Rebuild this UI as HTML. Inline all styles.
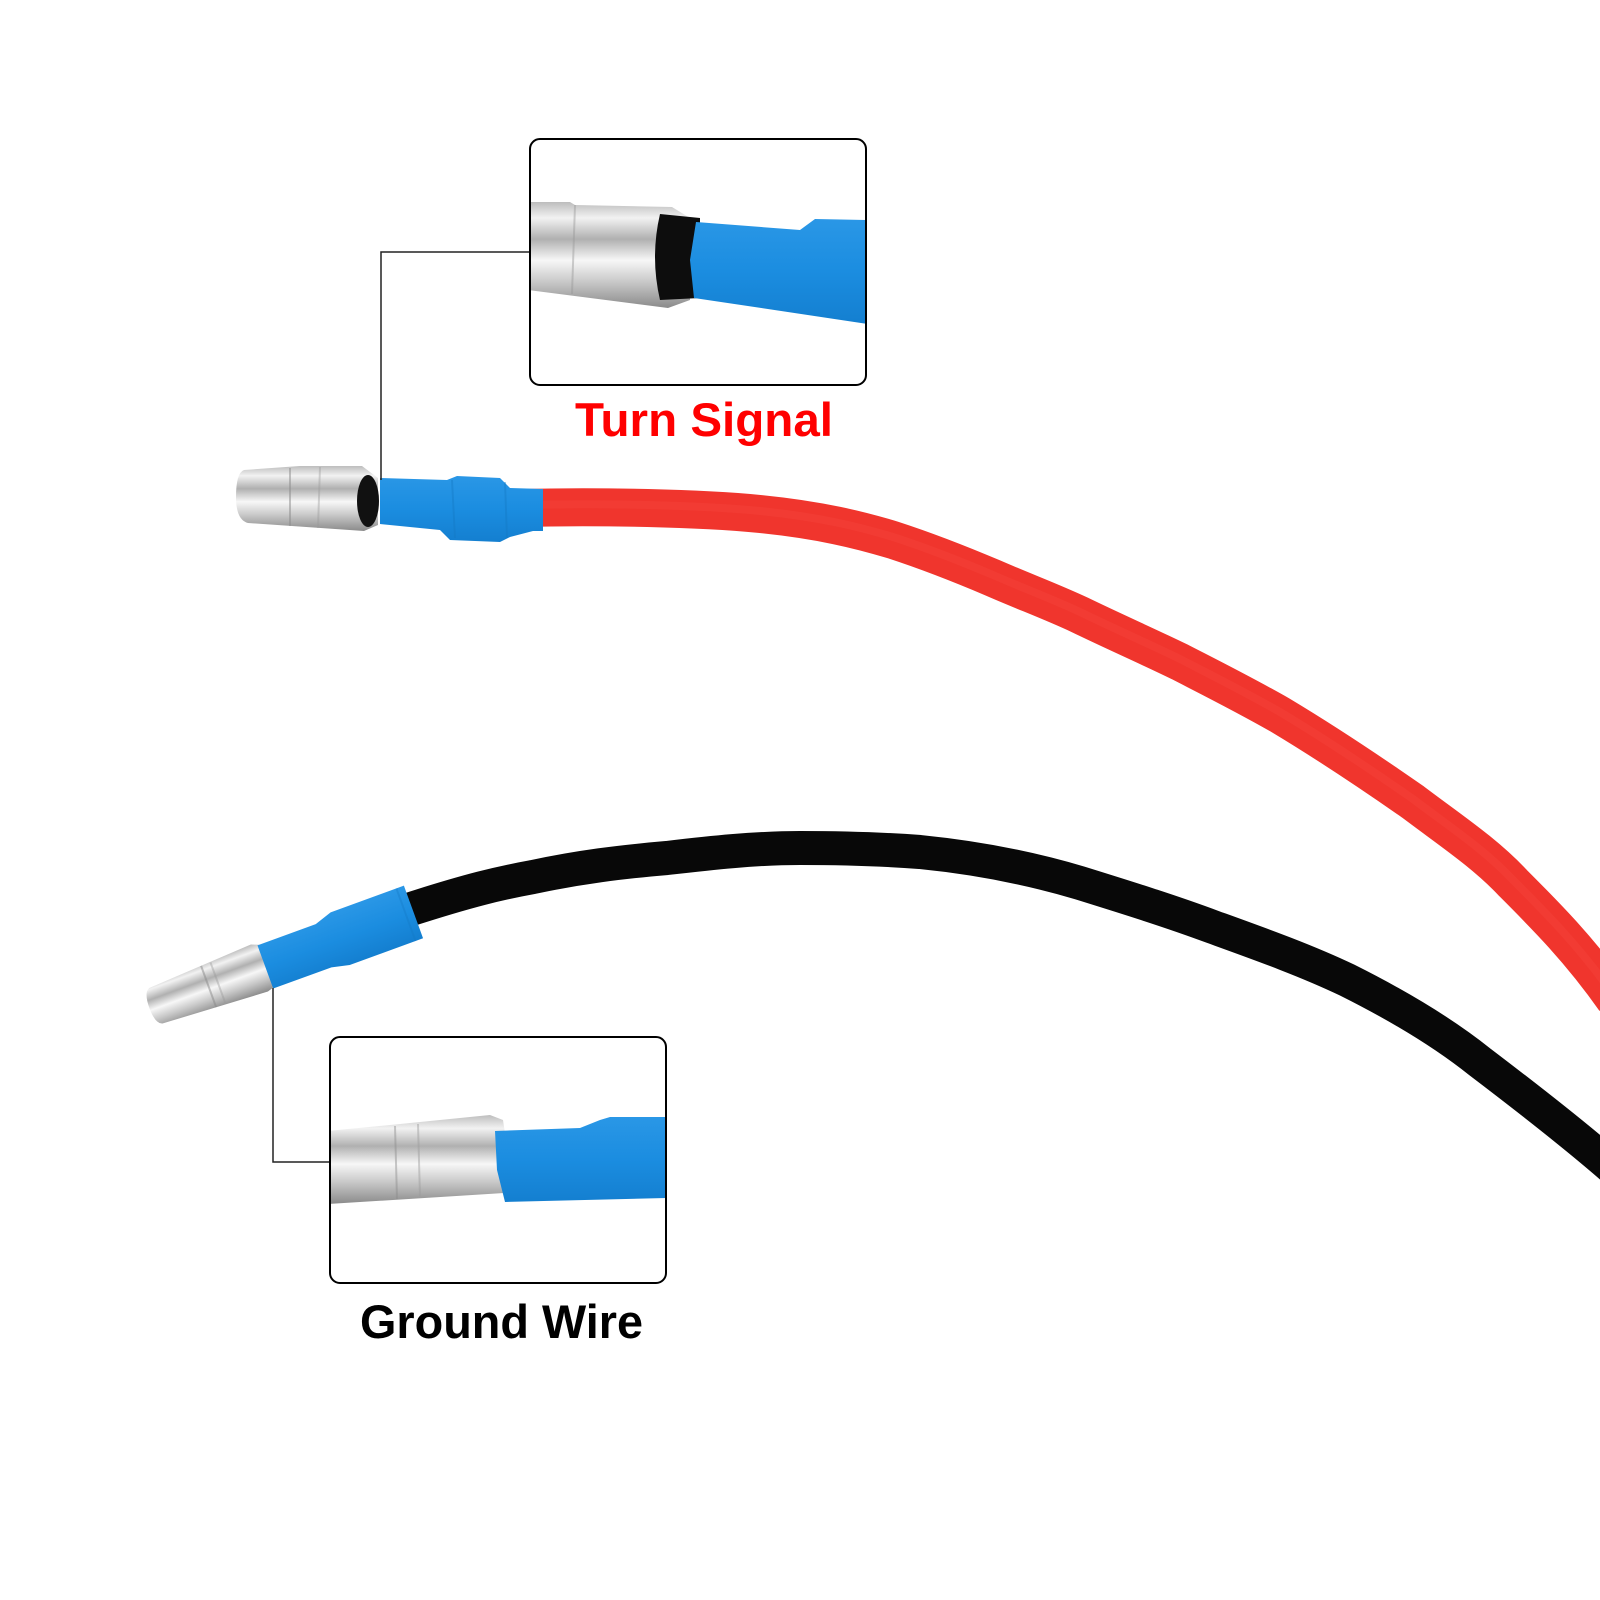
<!DOCTYPE html>
<html>
<head>
<meta charset="utf-8">
<style>
  html,body{margin:0;padding:0;background:#fff;}
  body{width:1600px;height:1600px;overflow:hidden;}
  svg{display:block;}
</style>
</head>
<body>
<svg width="1600" height="1600" viewBox="0 0 1600 1600" xmlns="http://www.w3.org/2000/svg">
  <defs>
    <linearGradient id="silverV" x1="0" y1="0" x2="0" y2="1">
      <stop offset="0" stop-color="#bdbdbd"/>
      <stop offset="0.15" stop-color="#f2f2f2"/>
      <stop offset="0.35" stop-color="#b0b0b0"/>
      <stop offset="0.55" stop-color="#f7f7f7"/>
      <stop offset="0.75" stop-color="#c9c9c9"/>
      <stop offset="1" stop-color="#8a8a8a"/>
    </linearGradient>
    <linearGradient id="blueV" x1="0" y1="0" x2="0" y2="1">
      <stop offset="0" stop-color="#2a97e6"/>
      <stop offset="0.5" stop-color="#1b8de0"/>
      <stop offset="1" stop-color="#147fd0"/>
    </linearGradient>
    <clipPath id="clipTop"><rect x="530" y="139" width="336" height="246" rx="10"/></clipPath>
    <clipPath id="clipBot"><rect x="330" y="1037" width="336" height="246" rx="10"/></clipPath>
  </defs>

  <!-- Red wire -->
  <path d="M520,508 C600,506 700,508 760,514 C820,520 860,530 893,540 C930,552 960,564 993,578 C1025,592 1050,601 1080,615 C1115,632 1145,645 1180,662 C1215,680 1245,695 1280,715 C1330,745 1370,772 1413,802 C1450,830 1485,853 1513,883 C1545,915 1580,950 1615,1000"
        fill="none" stroke="#f0352d" stroke-width="38"/>
  <path d="M520,505 C600,503 700,505 760,511 C820,517 860,527 893,537 C930,549 960,561 993,575 C1025,589 1050,598 1080,612 C1115,629 1145,642 1180,659 C1215,677 1245,692 1280,712 C1330,742 1370,769 1413,799 C1450,827 1485,850 1513,880 C1545,912 1580,947 1615,997"
        fill="none" stroke="#f85048" stroke-width="8" opacity="0.25"/>

  <!-- Black wire -->
  <path d="M408,910 C470,890 500,883 533,877 C580,867 620,862 667,858 C710,853 755,848 800,848 C845,848 880,849 920,852 C980,858 1030,868 1080,883 C1125,897 1170,911 1213,927 C1260,944 1305,960 1347,980 C1395,1004 1440,1030 1480,1062 C1530,1100 1575,1135 1615,1170"
        fill="none" stroke="#080808" stroke-width="34"/>

  <!-- Top connector -->
  <g>
    <path d="M244,470 L300,466 L362,466 L378,478 L378,525 L364,531 L248,523 Q236,520 236,497 Q236,473 244,470 Z" fill="url(#silverV)"/>
    <line x1="290" y1="468" x2="290" y2="526" stroke="#8c8c8c" stroke-width="2" opacity="0.5"/>
    <line x1="320" y1="467" x2="318" y2="528" stroke="#9a9a9a" stroke-width="2" opacity="0.4"/>
    <ellipse cx="368" cy="501" rx="11" ry="26" fill="#111"/>
    <path d="M380,478 L447,480 L457,476 L500,478 L510,488 L543,489 L543,531 L533,531 L510,537 L500,542 L450,540 L440,530 L380,524 Z" fill="url(#blueV)"/>
    <path d="M452,480 L455,538" stroke="#1479c4" stroke-width="2" opacity="0.4"/>
    <path d="M505,482 L507,538" stroke="#1479c4" stroke-width="2" opacity="0.4"/>
  </g>

  <!-- Bottom connector (rotated) -->
  <g transform="translate(265,966) rotate(-20)">
    <path d="M-116,-19 L-6,-25 L2,-22 L4,22 L-6,25 L-116,19 Q-123,17 -123,0 Q-123,-17 -116,-19 Z" fill="url(#silverV)"/>
    <line x1="-60" y1="-22" x2="-60" y2="22" stroke="#8a8a8a" stroke-width="2" opacity="0.5"/>
    <line x1="-50" y1="-22" x2="-50" y2="22" stroke="#9a9a9a" stroke-width="2" opacity="0.4"/>
    <path d="M0,-22 L62,-22 L80,-28 L158,-28 L158,28 L80,28 L62,24 L0,24 Z" fill="url(#blueV)"/>
    <line x1="150" y1="-28" x2="150" y2="28" stroke="#1479c4" stroke-width="2" opacity="0.35"/>
  </g>

  <!-- Callout lines -->
  <polyline points="381,480 381,252 530,252" fill="none" stroke="#222" stroke-width="1.5"/>
  <polyline points="273,988 273,1162 330,1162" fill="none" stroke="#222" stroke-width="1.5"/>

  <!-- Top inset -->
  <g clip-path="url(#clipTop)">
    <rect x="530" y="139" width="336" height="246" fill="#fff"/>
    <polygon points="528,202 570,202 575,205 672,207 690,218 690,300 668,308 528,290" fill="url(#silverV)"/>
    <line x1="575" y1="205" x2="572" y2="294" stroke="#999" stroke-width="2" opacity="0.45"/>
    <path d="M660,214 Q650,257 660,300 L700,298 L700,218 Z" fill="#0d0d0d"/>
    <polygon points="696,222 800,230 815,219 868,220 868,324 694,298 690,260" fill="url(#blueV)"/>
  </g>
  <rect x="530" y="139" width="336" height="246" rx="10" fill="none" stroke="#000" stroke-width="2"/>

  <!-- Bottom inset -->
  <g clip-path="url(#clipBot)">
    <rect x="330" y="1037" width="336" height="246" fill="#fff"/>
    <polygon points="328,1131 400,1124 490,1115 503,1120 506,1140 504,1193 328,1204" fill="url(#silverV)"/>
    <line x1="395" y1="1126" x2="397" y2="1199" stroke="#8c8c8c" stroke-width="2" opacity="0.45"/>
    <line x1="418" y1="1124" x2="420" y2="1197" stroke="#9c9c9c" stroke-width="2" opacity="0.45"/>
    <polygon points="495,1131 580,1128 600,1120 610,1117 668,1117 668,1198 505,1202 497,1170" fill="url(#blueV)"/>
  </g>
  <rect x="330" y="1037" width="336" height="246" rx="10" fill="none" stroke="#000" stroke-width="2"/>

  <!-- Labels -->
  <text x="575" y="436" font-family="Liberation Sans, Arial, sans-serif" font-weight="bold" font-size="47" fill="#ff0000" textLength="258" lengthAdjust="spacingAndGlyphs">Turn Signal</text>
  <text x="360" y="1338" font-family="Liberation Sans, Arial, sans-serif" font-weight="bold" font-size="47" fill="#000000" textLength="283" lengthAdjust="spacingAndGlyphs">Ground Wire</text>
</svg>
</body>
</html>
